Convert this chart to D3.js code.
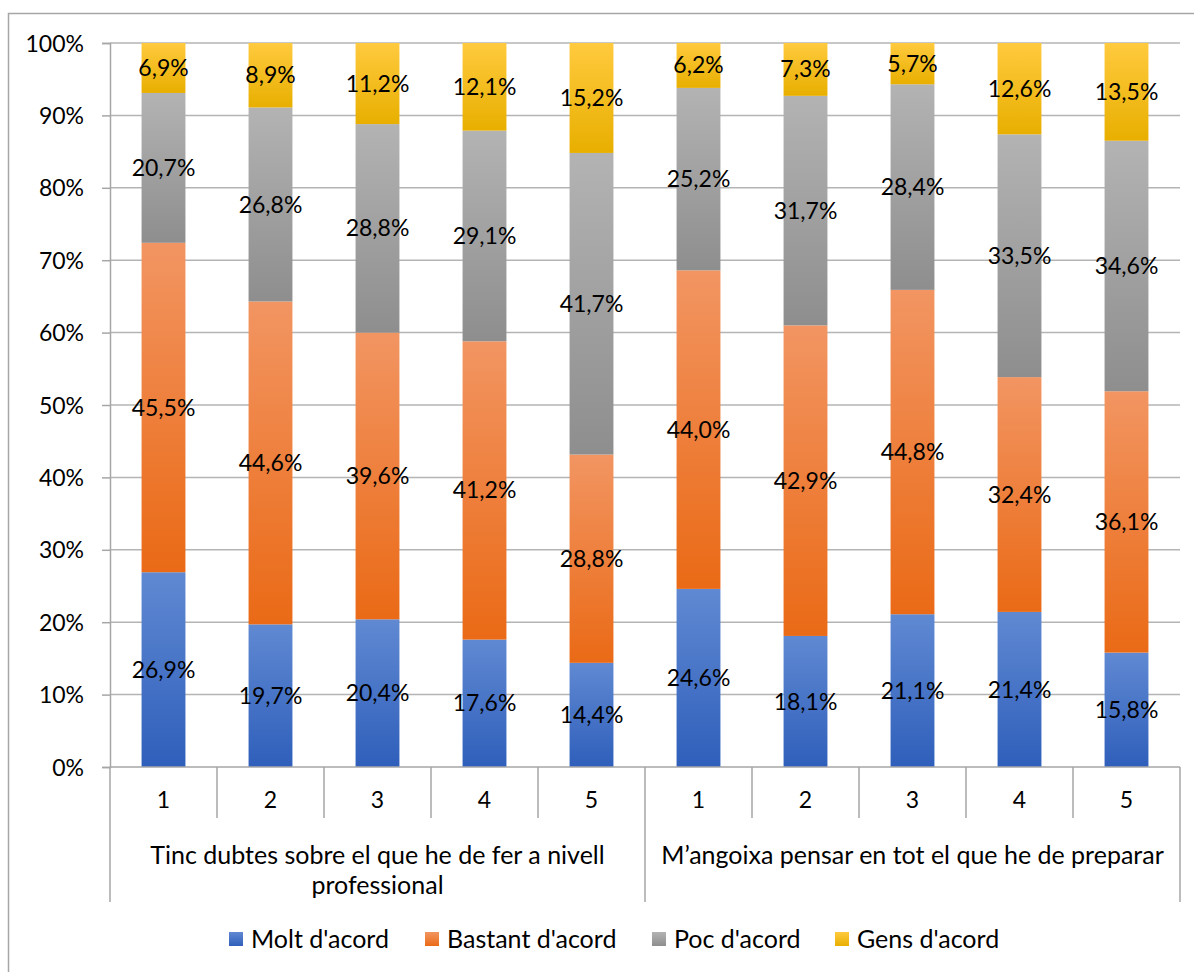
<html>
<head>
  <meta charset="utf-8">
  <style>
    body { margin: 0; background: #fff; }
    text { font-family: Lato, "Open Sans", sans-serif; fill: #000; }
  </style>
</head>
<body>
  <svg width="1194" height="972"></svg>
  <script src="https://d3js.org/d3.v7.min.js"></script>
  <script>

  var groups = ["Tinc dubtes sobre el que he de fer a nivell|professional", "M’angoixa pensar en tot el que he de preparar"];
  var levels = ["1", "2", "3", "4", "5"];
  var series = ["Molt d'acord", "Bastant d'acord", "Poc d'acord", "Gens d'acord"];

  var molt    = [26.9, 19.7, 20.4, 17.6, 14.4, 24.6, 18.1, 21.1, 21.4, 15.8];
  var bastant = [45.5, 44.6, 39.6, 41.2, 28.8, 44.0, 42.9, 44.8, 32.4, 36.1];
  var poc     = [20.7, 26.8, 28.8, 29.1, 41.7, 25.2, 31.7, 28.4, 33.5, 34.6];
  var gens    = [6.9, 8.9, 11.2, 12.1, 15.2, 6.2, 7.3, 5.7, 12.6, 13.5];

  var yTicks = [0, 0.1, 0.2, 0.3, 0.4, 0.5, 0.6, 0.7, 0.8, 0.9, 1];

  var colors = [
    {top: "#6089d2", bottom: "#2f5fbb"},
    {top: "#f29562", bottom: "#ea6a16"},
    {top: "#b3b3b3", bottom: "#8e8e8e"},
    {top: "#ffca3e", bottom: "#e8af00"}
  ];

  var svg = d3.select("svg"),
      pLeft = 110, pRight = 1180, pTop = 43, pBottom = 767,
      fs = "23px", fsBig = "25px";

  // outer border
  svg.append("rect").attr("x", 8.5).attr("y", 13.5).attr("width", 1200).attr("height", 1000)
    .attr("fill", "none").attr("stroke", "#a6a6a6").attr("stroke-width", 1.5);

  var defs = svg.append("defs");
  colors.forEach(function(c, i) {
    var g = defs.append("linearGradient").attr("id", "grad" + i)
      .attr("x1", 0).attr("y1", 0).attr("x2", 0).attr("y2", 1);
    g.append("stop").attr("offset", "0%").attr("stop-color", c.top);
    g.append("stop").attr("offset", "100%").attr("stop-color", c.bottom);
  });

  var cats = d3.range(molt.length);
  var X = d3.scaleBand().domain(cats).range([pLeft, pRight]).paddingInner(0.59).paddingOuter(0.295);
  var Y = d3.scaleLinear().domain([0, 1]).range([pBottom, pTop]);

  // gridlines
  svg.append("g").selectAll("line").data(yTicks.slice(1)).enter().append("line")
    .attr("x1", pLeft).attr("x2", pRight)
    .attr("y1", function(d) { return Y(d); }).attr("y2", function(d) { return Y(d); })
    .attr("stroke", "#b4b4b4").attr("stroke-width", 1.5);

  // y axis
  var yAxis = svg.append("g").attr("transform", "translate(" + pLeft + ",0)")
    .call(d3.axisLeft(Y).tickValues(yTicks).tickSize(8).tickPadding(18)
      .tickFormat(function(d) { return Math.round(d * 100) + "%"; }));
  yAxis.select(".domain").attr("stroke", "#a6a6a6").attr("stroke-width", 1.5);
  yAxis.selectAll(".tick line").attr("stroke", "#a6a6a6").attr("stroke-width", 1.5);
  yAxis.selectAll("text").style("font-size", fs).style("font-family", "Lato, sans-serif")
    .attr("fill", "#000").attr("dy", "0.35em");

  // stacked bars
  var rows = cats.map(function(i) {
    var vals = [molt[i], bastant[i], poc[i], gens[i]];
    var tot = d3.sum(vals);
    var r = {cat: i};
    series.forEach(function(s, k) { r[s] = vals[k] / tot; r["raw" + k] = vals[k]; });
    return r;
  });
  var stack = d3.stack().keys(series)(rows);

  var layer = svg.append("g").selectAll("g").data(stack).enter().append("g")
    .attr("fill", function(d, i) { return "url(#grad" + i + ")"; });

  layer.selectAll("rect").data(function(d) { return d; }).enter().append("rect")
    .attr("x", function(d) { return X(d.data.cat); })
    .attr("width", X.bandwidth())
    .attr("y", function(d) { return Y(d[1]); })
    .attr("height", function(d) { return Y(d[0]) - Y(d[1]); });

  // data labels
  stack.forEach(function(s, k) {
    svg.append("g").selectAll("text").data(s).enter().append("text")
      .attr("x", function(d) { return X(d.data.cat) + X.bandwidth() / 2; })
      .attr("y", function(d) { return (Y(d[0]) + Y(d[1])) / 2; })
      .attr("dy", "0.35em")
      .attr("text-anchor", "middle")
      .style("font-size", fs)
      .text(function(d) { return d.data["raw" + k].toFixed(1).replace(".", ",") + "%"; });
  });

  // category axis
  var step = X.step();
  var axisG = svg.append("g");
  axisG.append("line").attr("x1", pLeft).attr("x2", pRight).attr("y1", pBottom).attr("y2", pBottom)
    .attr("stroke", "#a6a6a6").attr("stroke-width", 1.5);
  d3.range(molt.length + 1).forEach(function(i) {
    var x = pLeft + i * step;
    var isGroup = i % levels.length === 0;
    axisG.append("line").attr("x1", x).attr("x2", x).attr("y1", pBottom)
      .attr("y2", isGroup ? 902 : 818)
      .attr("stroke", "#a6a6a6").attr("stroke-width", 1.5);
  });
  axisG.selectAll("text.lvl").data(cats).enter().append("text")
    .attr("x", function(d) { return X(d) + X.bandwidth() / 2; })
    .attr("y", 808).attr("text-anchor", "middle").style("font-size", fs)
    .text(function(d) { return levels[d % levels.length]; });

  groups.forEach(function(g, gi) {
    var cx = pLeft + (gi * levels.length + levels.length / 2) * step;
    var lines = g.split("|");
    lines.forEach(function(t, li) {
      axisG.append("text").attr("x", cx).attr("y", 864 + li * 30)
        .attr("text-anchor", "middle").style("font-size", fsBig).text(t);
    });
  });

  // legend
  var legX = [229, 425, 652, 835];
  var leg = svg.append("g").selectAll("g").data(series).enter().append("g")
    .attr("transform", function(d, i) { return "translate(" + legX[i] + ",932)"; });
  leg.append("rect").attr("width", 14).attr("height", 14)
    .attr("fill", function(d, i) { return "url(#grad" + i + ")"; });
  leg.append("text").attr("x", 22).attr("y", 7).attr("dy", "0.35em")
    .style("font-size", fsBig).text(function(d) { return d; });

  </script>
</body>
</html>
